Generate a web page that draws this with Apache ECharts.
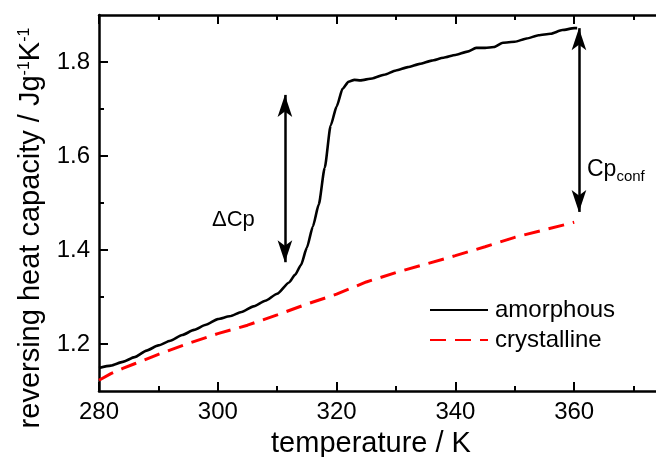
<!DOCTYPE html>
<html>
<head>
<meta charset="utf-8">
<script src="https://cdn.jsdelivr.net/npm/echarts@6/dist/echarts.min.js"></script>
<style>html,body{margin:0;padding:0;background:#fff}#c{width:656px;height:457px}</style>
</head>
<body>
<div id="c"></div>
<script>
// ---- data ----
const amorphousT = [280, 282, 284, 286, 288, 290, 292, 294, 296, 298, 300, 302, 304, 306, 308, 310, 312, 313, 314, 315, 316, 317, 318, 319, 320, 321, 322, 323, 324, 326, 328, 330, 332, 334, 336, 338, 340, 342, 343.5, 345, 346.5, 348, 350, 352, 354, 356, 358, 360, 360.5];
const amorphousCp = [1.149, 1.154, 1.162, 1.172, 1.186, 1.197, 1.207, 1.219, 1.230, 1.241, 1.253, 1.259, 1.268, 1.280, 1.292, 1.307, 1.331, 1.347, 1.368, 1.405, 1.450, 1.497, 1.575, 1.665, 1.705, 1.743, 1.758, 1.762, 1.761, 1.765, 1.773, 1.782, 1.789, 1.796, 1.803, 1.809, 1.815, 1.822, 1.830, 1.830, 1.832, 1.841, 1.843, 1.850, 1.857, 1.860, 1.868, 1.872, 1.872];
const crystallineT = [280, 282, 284, 286, 288, 290, 295, 300, 305, 310, 315, 320, 325, 330, 335, 340, 345, 350, 355, 360];
const crystallineCp = [1.123, 1.137, 1.148, 1.158, 1.168, 1.178, 1.201, 1.222, 1.240, 1.262, 1.285, 1.306, 1.332, 1.352, 1.370, 1.388, 1.407, 1.427, 1.443, 1.459];
const xTickLabels = [280, 300, 320, 340, 360];
const yMajorTicks = [1.2, 1.4, 1.6, 1.8];
const yMinorTicks = [1.3, 1.5, 1.7];
// arrow annotations: [T, Cp at one tip, Cp at other tip]
const deltaCpArrow = [311.3, 1.730, 1.374];
const cpConfArrow = [360.8, 1.872, 1.481];

const FONT = 'Liberation Sans, Arial, sans-serif';
const chart = echarts.init(document.getElementById('c'));
const zip = (a, b) => a.map((v, i) => [v, b[i]]);

const xBase = {
  type: 'value', min: 280, max: 380, interval: 20,
  axisLine: { show: true, onZero: false, lineStyle: { color: '#000', width: 2.5 } },
  axisTick: { show: true, inside: true, length: 9, lineStyle: { color: '#000', width: 2 } },
  minorTick: { show: true, splitNumber: 2, length: 5, lineStyle: { color: '#000', width: 2 } },
  splitLine: { show: false }
};

chart.setOption({
  animation: false,
  backgroundColor: '#fff',
  grid: { left: 99, top: 15, width: 594, height: 376, containLabel: false, outerBoundsMode: 'none' },
  xAxis: [
    Object.assign({}, xBase, { position: 'bottom',
      axisLabel: { show: true, margin: 9, color: '#000', fontSize: 24, fontFamily: FONT,
        formatter: v => xTickLabels.includes(v) ? String(v) : '' } }),
    Object.assign({}, xBase, { position: 'top', axisLabel: { show: false } })
  ],
  yAxis: [
    { type: 'value', min: 1.1, max: 1.9, position: 'left',
      axisLine: { show: true, onZero: false, lineStyle: { color: '#000', width: 2.5 } },
      axisTick: { show: true, inside: true, length: 9, customValues: yMajorTicks, lineStyle: { color: '#000', width: 2 } },
      axisLabel: { show: true, margin: 9, color: '#000', fontSize: 24, fontFamily: FONT,
        customValues: yMajorTicks, formatter: v => v.toFixed(1) },
      splitLine: { show: false } },
    { type: 'value', min: 1.1, max: 1.9, position: 'left',
      axisLine: { show: false },
      axisTick: { show: true, inside: true, length: 5, customValues: yMinorTicks, lineStyle: { color: '#000', width: 2 } },
      axisLabel: { show: false }, splitLine: { show: false } }
  ],
  legend: {
    orient: 'vertical', left: 429, top: 298, padding: 0, itemWidth: 58, itemHeight: 14, itemGap: 6,
    itemStyle: { opacity: 0, borderWidth: 0 },
    textStyle: { fontSize: 24, color: '#000', fontFamily: FONT, padding: [0, 0, 0, 2] },
    data: ['amorphous', 'crystalline']
  },
  series: [
    { name: 'amorphous', type: 'line', data: zip(amorphousT, amorphousCp), showSymbol: false, symbol: 'none',
      smooth: 0.2, smoothMonotone: 'x',
      lineStyle: { color: '#000', width: 2.6 }, itemStyle: { color: '#000' }, z: 3,
      markLine: {
        silent: true, symbol: ['arrow', 'arrow'], symbolSize: [11, 22], label: { show: false },
        lineStyle: { color: '#000', width: 2.5, type: 'solid' },
        data: [
          [{ coord: [deltaCpArrow[0], deltaCpArrow[1]] }, { coord: [deltaCpArrow[0], deltaCpArrow[2]] }],
          [{ coord: [cpConfArrow[0], cpConfArrow[1]] }, { coord: [cpConfArrow[0], cpConfArrow[2]] }]
        ]
      } },
    { name: 'crystalline', type: 'line', data: zip(crystallineT, crystallineCp), showSymbol: false, symbol: 'none',
      smooth: false,
      lineStyle: { color: '#ff0000', width: 3, type: [16, 9] }, itemStyle: { color: '#ff0000' }, z: 2 }
  ],
  graphic: [
    { type: 'text', x: 31, y: 228, rotation: Math.PI / 2,
      style: { text: 'reversing heat capacity / Jg{sup|-1}K{sup|-1}', fontSize: 29, fontFamily: FONT, fill: '#000',
        align: 'center', verticalAlign: 'middle',
        rich: { sup: { fontSize: 16, fontFamily: FONT, verticalAlign: 'top', fill: '#000' } } } },
    { type: 'text', x: 371, y: 444,
      style: { text: 'temperature / K', fontSize: 29, fontFamily: FONT, fill: '#000', align: 'center', verticalAlign: 'middle' } },
    { type: 'text', x: 212, y: 220,
      style: { text: 'ΔCp', fontSize: 22, fontFamily: FONT, fill: '#000', align: 'left', verticalAlign: 'middle' } },
    { type: 'text', x: 587, y: 170,
      style: { text: 'Cp{sub|conf}', fontSize: 23, fontFamily: FONT, fill: '#000', align: 'left', verticalAlign: 'middle',
        rich: { sub: { fontSize: 15, fontFamily: FONT, verticalAlign: 'bottom', fill: '#000', padding: [14, 0, 0, 0] } } } }
  ]
});
</script>
</body>
</html>
